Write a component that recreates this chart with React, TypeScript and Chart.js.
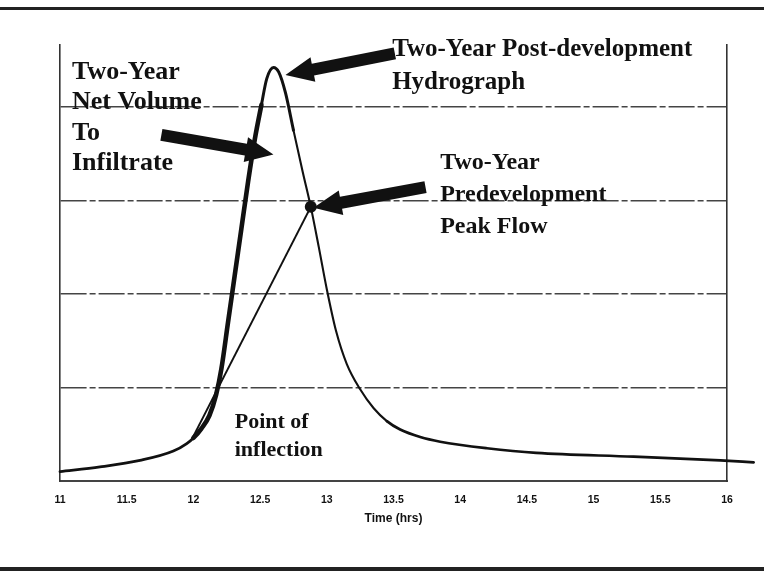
import React, { useEffect, useRef } from "react";
import { Chart, registerables } from "chart.js";

Chart.register(...registerables);

// Two-year post-development hydrograph (time in hours, flow in grid units)
const hydroTime = [11.0, 11.3, 11.6, 11.85, 11.95, 12.0, 12.06, 12.12, 12.17, 12.21, 12.26, 12.31, 12.36, 12.41, 12.46, 12.51, 12.55, 12.6, 12.64, 12.69, 12.75, 12.82, 12.88, 12.94, 13.0, 13.07, 13.15, 13.25, 13.35, 13.45, 13.55, 13.7, 13.85, 14.2, 14.57, 15.3, 15.95, 16.2];
const hydroFlow = [0.1, 0.15, 0.22, 0.32, 0.4, 0.46, 0.56, 0.7, 0.92, 1.2, 1.7, 2.2, 2.7, 3.2, 3.65, 4.02, 4.3, 4.42, 4.37, 4.15, 3.75, 3.3, 2.93, 2.5, 2.05, 1.6, 1.25, 0.98, 0.78, 0.64, 0.55, 0.47, 0.42, 0.35, 0.3, 0.26, 0.22, 0.2];

// Straight line from the point of inflection to the predevelopment peak flow
const preTime = [11.99, 12.88];
const preFlow = [0.45, 2.93];

// Axis ticks
const xTicks = [11, 11.5, 12, 12.5, 13, 13.5, 14, 14.5, 15, 15.5, 16];
const xTickLabels = ["11", "11.5", "12", "12.5", "13", "13.5", "14", "14.5", "15", "15.5", "16"];
const yGrid = [0, 1, 2, 3, 4];
const yMax = 4.66;
const xTitle = "Time (hrs)";

// Annotation texts (anchored in data coordinates)
const topText = ["Two-Year Post-development", "Hydrograph"];
const leftText = ["Two-Year", "Net Volume", "To", "Infiltrate"];
const rightText = ["Two-Year", "Predevelopment", "Peak Flow"];
const inflectionText = ["Point of", "inflection"];

const textBlocks = [
  { lines: topText, t: 13.49, v: 4.61, size: 25, lh: 33 },
  { lines: leftText, t: 11.09, v: 4.37, size: 26, lh: 30.5 },
  { lines: rightText, t: 13.85, v: 3.4, size: 24, lh: 32 },
  { lines: inflectionText, t: 12.31, v: 0.63, size: 22, lh: 28 },
];

// Arrows: tail -> tip in data coordinates
const arrows = [
  { from: [13.51, 4.57], to: [12.69, 4.34] },
  { from: [11.76, 3.7], to: [12.6, 3.49] },
  { from: [13.74, 3.14], to: [12.9, 2.92] },
];

const annotationPlugin = {
  id: "hydroAnnotations",
  afterDatasetsDraw(chart: any) {
    const { ctx, scales } = chart;
    const x = scales.x;
    const y = scales.y;
    ctx.save();
    ctx.fillStyle = "#111";
    arrows.forEach((a) => {
      const x1 = x.getPixelForValue(a.from[0]);
      const y1 = y.getPixelForValue(a.from[1]);
      const x2 = x.getPixelForValue(a.to[0]);
      const y2 = y.getPixelForValue(a.to[1]);
      const dx = x2 - x1;
      const dy = y2 - y1;
      const len = Math.hypot(dx, dy);
      const ux = dx / len;
      const uy = dy / len;
      const nx = -uy;
      const ny = ux;
      const shaftW = 12;
      const headW = 25;
      const headL = 28;
      const bx = x2 - ux * headL;
      const by = y2 - uy * headL;
      ctx.beginPath();
      ctx.moveTo(x1 + (nx * shaftW) / 2, y1 + (ny * shaftW) / 2);
      ctx.lineTo(bx + (nx * shaftW) / 2, by + (ny * shaftW) / 2);
      ctx.lineTo(bx + (nx * headW) / 2, by + (ny * headW) / 2);
      ctx.lineTo(x2, y2);
      ctx.lineTo(bx - (nx * headW) / 2, by - (ny * headW) / 2);
      ctx.lineTo(bx - (nx * shaftW) / 2, by - (ny * shaftW) / 2);
      ctx.lineTo(x1 - (nx * shaftW) / 2, y1 - (ny * shaftW) / 2);
      ctx.closePath();
      ctx.fill();
    });
    ctx.textAlign = "left";
    ctx.textBaseline = "middle";
    textBlocks.forEach((b) => {
      ctx.font = `bold ${b.size}px 'Liberation Serif', 'DejaVu Serif', serif`;
      const px = x.getPixelForValue(b.t);
      const py = y.getPixelForValue(b.v);
      b.lines.forEach((line, i) => {
        ctx.fillText(line, px, py + i * b.lh);
      });
    });
    ctx.restore();
  },
};

export default function App() {
  const ref = useRef<HTMLCanvasElement>(null);

  useEffect(() => {
    if (!ref.current) return;
    const chart = new Chart(ref.current, {
      type: "line",
      data: {
        datasets: [
          {
            label: "Two-Year Post-development Hydrograph",
            data: hydroTime.map((t, i) => ({ x: t, y: hydroFlow[i] })),
            borderColor: "#111",
            borderWidth: 2.4,
            pointRadius: 0,
            cubicInterpolationMode: "monotone",
            clip: false as any,
            borderCapStyle: "round",
            borderJoinStyle: "round",
            segment: {
              borderWidth: (c: any) => {
                const a = c.p0.parsed.x;
                if (a < 11.99) return 2.8;
                if (a < 12.5) return 4.6;
                if (a < 12.7) return 3.0;
                if (a < 13.4) return 2.1;
                return 2.7;
              },
            },
          },
          {
            label: "Two-Year Predevelopment Peak Flow",
            data: preTime.map((t, i) => ({ x: t, y: preFlow[i] })),
            borderColor: "#111",
            borderWidth: 2,
            pointRadius: [0, 6],
            pointBackgroundColor: "#111",
            pointBorderWidth: 0,
            tension: 0,
          },
        ],
      } as any,
      options: {
        animation: false,
        responsive: false,
        devicePixelRatio: 1,
        layout: { padding: { left: 60, right: 37, top: 45, bottom: 43 } },
        plugins: { legend: { display: false }, tooltip: { enabled: false } },
        scales: {
          x: {
            type: "linear",
            min: 11,
            max: 16,
            afterBuildTicks: (s: any) => {
              s.ticks = xTicks.map((v) => ({ value: v }));
            },
            afterFit: (s: any) => {
              s.height = 49;
            },
            ticks: {
              callback: (_v: any, i: number) => xTickLabels[i],
              font: { family: "'Liberation Sans', Arial, sans-serif", weight: "bold", size: 10.5 },
              color: "#111",
              padding: 13,
              maxRotation: 0,
              autoSkip: false,
            },
            grid: { display: false, drawTicks: false },
            border: { display: true, color: "#444", width: 2 },
            title: {
              display: true,
              text: xTitle,
              font: { family: "'Liberation Sans', Arial, sans-serif", weight: "bold", size: 12 },
              color: "#111",
              padding: { top: 4, bottom: 4 },
            },
          },
          y: {
            type: "linear",
            min: 0,
            max: yMax,
            afterBuildTicks: (s: any) => {
              s.ticks = yGrid.map((v) => ({ value: v }));
            },
            afterFit: (s: any) => {
              s.width = 0;
            },
            ticks: { display: false },
            grid: { color: "#444", lineWidth: 1.4, drawTicks: false },
            border: { display: true, color: "#333", width: 1.6, dash: [26, 3, 6, 3] },
          },
          y2: {
            type: "linear",
            position: "right",
            min: 0,
            max: yMax,
            afterFit: (s: any) => {
              s.width = 0;
            },
            ticks: { display: false },
            grid: { display: false },
            border: { display: true, color: "#333", width: 1.6 },
          },
        },
      } as any,
      plugins: [annotationPlugin],
    });
    return () => chart.destroy();
  }, []);

  return (
    <div style={{ position: "absolute", left: 0, top: 0, width: 764, height: 573, background: "#fff" }}>
      <div style={{ position: "absolute", left: 0, top: 7, width: 764, height: 3, background: "#222" }} />
      <canvas ref={ref} width={764} height={573} style={{ position: "absolute", left: 0, top: 0, width: 764, height: 573 }} />
      <div style={{ position: "absolute", left: 0, top: 567, width: 764, height: 4, background: "#222" }} />
    </div>
  );
}
